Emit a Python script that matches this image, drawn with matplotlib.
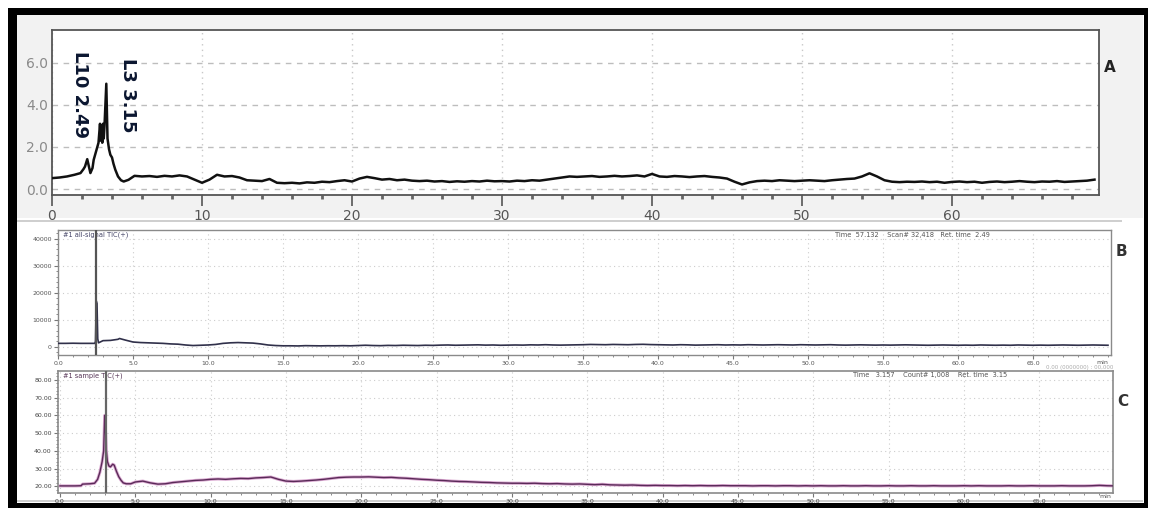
import numpy as np
import matplotlib
matplotlib.use("Agg")
import matplotlib.pyplot as plt
from matplotlib.patches import Rectangle
from matplotlib.ticker import MultipleLocator

# ---------------- data ----------------
# Panel A (UV / detector trace)
A_peak_time = [0.0, 0.5, 1.0, 1.5, 1.9, 2.1, 2.2, 2.35, 2.45, 2.56, 2.7, 2.78, 2.9, 3.0,
               3.1, 3.2, 3.25, 3.3, 3.35, 3.4, 3.45, 3.5, 3.62, 3.7, 3.8, 3.89, 4.0,
               4.1, 4.22, 4.4, 4.6, 4.78, 4.95, 5.1]
A_peak_vals = [0.52, 0.55, 0.6, 0.68, 0.76, 0.95, 1.07, 1.42, 1.1, 0.76, 1.0, 1.39, 1.7, 1.94,
               2.2, 3.1, 2.3, 3.0, 2.2, 3.1, 2.4, 3.0, 5.0, 2.4, 1.9, 1.63, 1.5,
               1.2, 0.92, 0.6, 0.42, 0.36, 0.4, 0.44]
A_base_time = np.arange(5.5, 69.6, 0.5)
A_base_vals = [0.63, 0.6, 0.62, 0.58, 0.63, 0.6, 0.65, 0.6, 0.45, 0.3,
               0.45, 0.68, 0.6, 0.62, 0.55, 0.42, 0.4, 0.38, 0.48, 0.3,
               0.28, 0.3, 0.27, 0.32, 0.3, 0.35, 0.33, 0.38, 0.42, 0.36,
               0.5, 0.58, 0.52, 0.45, 0.48, 0.42, 0.45, 0.4, 0.38, 0.4,
               0.36, 0.38, 0.34, 0.37, 0.35, 0.38, 0.36, 0.4, 0.37, 0.38,
               0.36, 0.4, 0.38, 0.42, 0.4, 0.45, 0.5, 0.55, 0.6, 0.58,
               0.6, 0.62, 0.58, 0.6, 0.63, 0.6, 0.62, 0.65, 0.6, 0.72,
               0.6, 0.58, 0.62, 0.6, 0.57, 0.6, 0.62, 0.58, 0.55, 0.5,
               0.35, 0.22, 0.32, 0.38, 0.4, 0.38, 0.42, 0.4, 0.38, 0.4,
               0.42, 0.4, 0.38, 0.42, 0.45, 0.48, 0.5, 0.6, 0.75, 0.6,
               0.42, 0.35, 0.33, 0.35, 0.34, 0.36, 0.33, 0.35, 0.3, 0.34,
               0.36, 0.33, 0.35, 0.3, 0.34, 0.36, 0.33, 0.35, 0.38, 0.35,
               0.33, 0.36, 0.35, 0.38, 0.34, 0.36, 0.38, 0.4, 0.45]
A_labels = ["L10 2.49", "L3 3.15"]
A_label_x = [1.87, 5.07]
A_yticks = [0.0, 2.0, 4.0, 6.0]
A_xticks = [0, 10, 20, 30, 40, 50, 60]

# Panel B (TIC)
B_peak_time = [0.0, 0.5, 1.0, 1.5, 2.0, 2.45, 2.5, 2.55, 2.6, 2.65, 2.7, 3.0, 3.5, 4.0, 4.1, 4.5, 5.0]
B_peak_vals = [1300, 1300, 1350, 1300, 1300, 1300, 2000, 17000, 16000, 3000, 1500, 2300, 2400, 2800,
               3100, 2500, 1800]
B_base_time = np.arange(5.5, 70.01, 0.5)
B_base_vals = [1600, 1500, 1400, 1300, 1100, 1000, 700, 500, 600, 700,
               900, 1300, 1500, 1600, 1500, 1400, 1100, 700, 500, 400,
               400, 350, 450, 400, 380, 420, 400, 450, 400, 500,
               600, 500, 450, 550, 500, 600, 550, 500, 600, 550,
               650, 700, 600, 650, 700, 750, 650, 700, 600, 650,
               700, 650, 750, 700, 800, 700, 650, 700, 750, 800,
               900, 850, 800, 900, 850, 800, 900, 950, 850, 800,
               750, 700, 800, 750, 650, 700, 750, 800, 700, 750,
               700, 800, 750, 700, 750, 800, 750, 700, 800, 750,
               700, 750, 800, 700, 650, 700, 750, 700, 650, 700,
               650, 700, 750, 700, 650, 600, 650, 700, 650, 600,
               650, 600, 700, 650, 600, 650, 600, 700, 650, 600,
               650, 600, 650, 700, 650, 600, 650, 700, 650, 600]
B_marker_time = 2.52
B_yticks = [0, 10000, 20000, 30000, 40000]
B_xticks = [0, 5, 10, 15, 20, 25, 30, 35, 40, 45, 50, 55, 60, 65]

# Panel C (TIC, sample)
C_peak_time = [0.0, 0.5, 1.0, 1.4, 1.5, 2.0, 2.3, 2.5, 2.65, 2.8, 2.9, 2.97, 3.02, 3.08, 3.15,
               3.25, 3.35, 3.5, 3.6, 3.75, 3.9, 4.05, 4.2, 4.4, 4.7, 5.0]
C_peak_vals = [20.3, 20.3, 20.3, 20.4, 21.3, 21.5, 21.8, 24.0, 28.0, 34.0, 40.0, 60.0, 52.0, 40.0,
               34.0, 31.5, 31.0, 32.5, 32.0, 28.5, 25.5, 23.5, 22.0, 21.5, 21.5, 22.5]
C_base_time = np.arange(5.5, 70.01, 0.5)
C_base_vals = [23.0, 22.0, 21.3, 21.5, 22.2, 22.6, 23.0, 23.4, 23.6, 24.0,
               24.2, 24.0, 24.3, 24.5, 24.4, 24.8, 25.0, 25.3, 24.0, 23.0,
               22.8, 23.0, 23.3, 23.6, 24.0, 24.5, 25.0, 25.2, 25.3, 25.3,
               25.4, 25.2, 25.0, 25.1, 24.8, 24.6, 24.3, 24.0, 23.8, 23.5,
               23.3, 23.0, 22.8, 22.7, 22.5, 22.3, 22.2, 22.0, 21.9, 21.8,
               21.8, 21.7, 21.8, 21.6, 21.5, 21.6, 21.4, 21.3, 21.4, 21.2,
               21.0, 21.2, 20.9, 20.8, 20.7, 20.8, 20.6, 20.5, 20.6, 20.5,
               20.5, 20.4, 20.5, 20.4, 20.5, 20.4, 20.4, 20.5, 20.4, 20.4,
               20.4, 20.3, 20.4, 20.4, 20.3, 20.4, 20.4, 20.3, 20.4, 20.3,
               20.4, 20.3, 20.3, 20.4, 20.3, 20.3, 20.4, 20.3, 20.3, 20.4,
               20.3, 20.3, 20.4, 20.3, 20.3, 20.4, 20.3, 20.3, 20.3, 20.4,
               20.3, 20.4, 20.3, 20.3, 20.3, 20.4, 20.3, 20.3, 20.4, 20.3,
               20.3, 20.3, 20.4, 20.3, 20.3, 20.3, 20.4, 20.6, 20.4, 20.3]
C_marker_time = 3.05
C_yticks = [20, 30, 40, 50, 60, 70, 80]
C_xticks = [0, 5, 10, 15, 20, 25, 30, 35, 40, 45, 50, 55, 60, 65]

panel_names = ["A", "B", "C"]

# ---------------- layout helpers ----------------
W, H = 1150, 512
fig = plt.figure(figsize=(W / 100, H / 100), dpi=100)
fig.patch.set_facecolor("white")


def rect(l, t, r, b):
    return [l / W, 1 - b / H, (r - l) / W, (b - t) / H]


def fig_box(l, t, r, b, color, z=0):
    fig.patches.append(Rectangle((l / W, 1 - b / H), (r - l) / W, (b - t) / H,
                                 transform=fig.transFigure, facecolor=color,
                                 edgecolor="none", zorder=z))


# light gray background around panel A
fig_box(17, 15, 1143, 218, "#f2f2f2", z=-10)
# separator lines
fig_box(17, 220, 1122, 222, "#cfcfcf", z=-10)
fig_box(17, 500, 1143, 502, "#cfcfcf", z=-10)

# outer black frame
fig_box(8, 8, 1148, 15, "black", z=5)
fig_box(8, 8, 17, 508, "black", z=5)
fig_box(1144, 8, 1148, 508, "black", z=5)
fig_box(8, 503, 1148, 508, "black", z=5)

# ---------------- Panel A ----------------
axA = fig.add_axes(rect(52, 30, 1099, 195))
axA.set_facecolor("white")
tA = np.concatenate([A_peak_time, A_base_time])
vA = np.concatenate([A_peak_vals, A_base_vals])
axA.plot(tA, vA, color="#111111", lw=1.8, zorder=3)
axA.set_xlim(0, 69.8)
axA.set_ylim(-0.28, 7.55)
axA.set_yticks(A_yticks)
axA.set_yticklabels([f"{v:.1f}" for v in A_yticks])
axA.set_xticks(A_xticks)
axA.xaxis.set_minor_locator(MultipleLocator(2))
axA.tick_params(axis="y", length=0, labelsize=10, labelcolor="#8a8a8a", pad=3)
axA.tick_params(axis="x", which="major", length=8, width=1.2, color="#555555",
                labelsize=10, labelcolor="#555555", pad=2)
axA.tick_params(axis="x", which="minor", length=3, width=2, color="#666666")
axA.grid(axis="y", color="#bdbdbd", lw=1.0, ls=(0, (4, 4)))
axA.grid(axis="x", which="major", color="#c8c8c8", lw=1.0, ls=(0, (1, 3)))
for s in axA.spines.values():
    s.set_color("#555555")
    s.set_linewidth(1.3)
for lab, x in zip(A_labels, A_label_x):
    axA.text(x, 4.47, lab, rotation=-90, ha="center", va="center",
             fontsize=13, fontweight="bold", color="#0b1630", zorder=4)
fig.text(1110 / W, 1 - 67 / H, panel_names[0], fontsize=11, color="#222222",
         ha="center", va="center", fontweight="semibold")

# ---------------- Panel B ----------------
axB = fig.add_axes(rect(58, 230, 1111, 355))
tB = np.concatenate([B_peak_time, B_base_time])
vB = np.concatenate([B_peak_vals, B_base_vals])
axB.plot(tB, vB, color="#30304a", lw=1.2, zorder=3)
axB.axvline(B_marker_time, color="#555555", lw=1.6, zorder=4)
axB.set_xlim(0, 70.2)
axB.set_ylim(-3000, 43200)
axB.set_yticks(B_yticks)
axB.set_yticklabels([str(v) for v in B_yticks])
axB.set_xticks(B_xticks)
axB.set_xticklabels([f"{v:.1f}" for v in B_xticks])
axB.xaxis.set_minor_locator(MultipleLocator(1))
axB.yaxis.set_minor_locator(MultipleLocator(2000))
axB.tick_params(which="both", labelsize=4.5, labelcolor="#555555", color="#777777", pad=1.5)
axB.tick_params(which="major", length=3)
axB.tick_params(which="minor", length=1.5)
axB.grid(which="major", color="#cccccc", lw=0.8, ls=(0, (1, 3)))
for s in axB.spines.values():
    s.set_color("#8a8a8a")
    s.set_linewidth(1.0)
axB.text(0.005, 0.985, "#1 all-signal TIC(+)", transform=axB.transAxes, fontsize=4.8,
         color="#444466", ha="left", va="top")
axB.text(0.885, 0.985, "Time  57.132    Scan# 32,418   Ret. time  2.49", transform=axB.transAxes,
         fontsize=4.8, color="#555555", ha="right", va="top")
fig.text(1102 / W, 1 - 362 / H, "min", fontsize=4.5, color="#555555", ha="center", va="center")
fig.text(1113 / W, 1 - 367 / H, "0.00 (0000000) : 00,000", fontsize=4, color="#aaaaaa",
         ha="right", va="center")
fig.text(1121 / W, 1 - 252 / H, panel_names[1], fontsize=11, color="#333333",
         ha="center", va="center", fontweight="semibold")

# ---------------- Panel C ----------------
axC = fig.add_axes(rect(58, 371, 1113, 493))
tC = np.concatenate([C_peak_time, C_base_time])
vC = np.concatenate([C_peak_vals, C_base_vals])
axC.plot(tC, vC, color="#d9a8d0", lw=2.2, zorder=2)
axC.plot(tC, vC, color="#5a2a58", lw=1.0, zorder=3)
axC.axvline(C_marker_time, color="#666666", lw=1.6, zorder=4)
axC.set_xlim(-0.13, 69.9)
axC.set_ylim(16.3, 85.0)
axC.set_yticks(C_yticks)
axC.set_yticklabels([f"{v:.2f}" for v in C_yticks])
axC.set_xticks(C_xticks)
axC.set_xticklabels([f"{v:.1f}" for v in C_xticks])
axC.xaxis.set_minor_locator(MultipleLocator(1))
axC.yaxis.set_minor_locator(MultipleLocator(2))
axC.tick_params(which="both", labelsize=4.5, labelcolor="#444444", color="#777777", pad=1.5)
axC.tick_params(which="major", length=3)
axC.tick_params(which="minor", length=1.5)
axC.grid(which="major", color="#cccccc", lw=0.8, ls=(0, (1, 3)))
for s in axC.spines.values():
    s.set_color("#8a8a8a")
    s.set_linewidth(1.2)
axC.text(0.005, 0.99, "#1 sample TIC(+)", transform=axC.transAxes, fontsize=4.8,
         color="#553355", ha="left", va="top")
axC.text(0.9, 0.99, "Time   3.157    Count# 1,008    Ret. time  3.15", transform=axC.transAxes,
         fontsize=4.8, color="#555555", ha="right", va="top")
fig.text(1105 / W, 1 - 497 / H, "min", fontsize=4.5, color="#555555", ha="center", va="center")
fig.text(1123 / W, 1 - 402 / H, panel_names[2], fontsize=11, color="#333333",
         ha="center", va="center", fontweight="semibold")

fig.savefig("out.png", dpi=100, facecolor="white")
